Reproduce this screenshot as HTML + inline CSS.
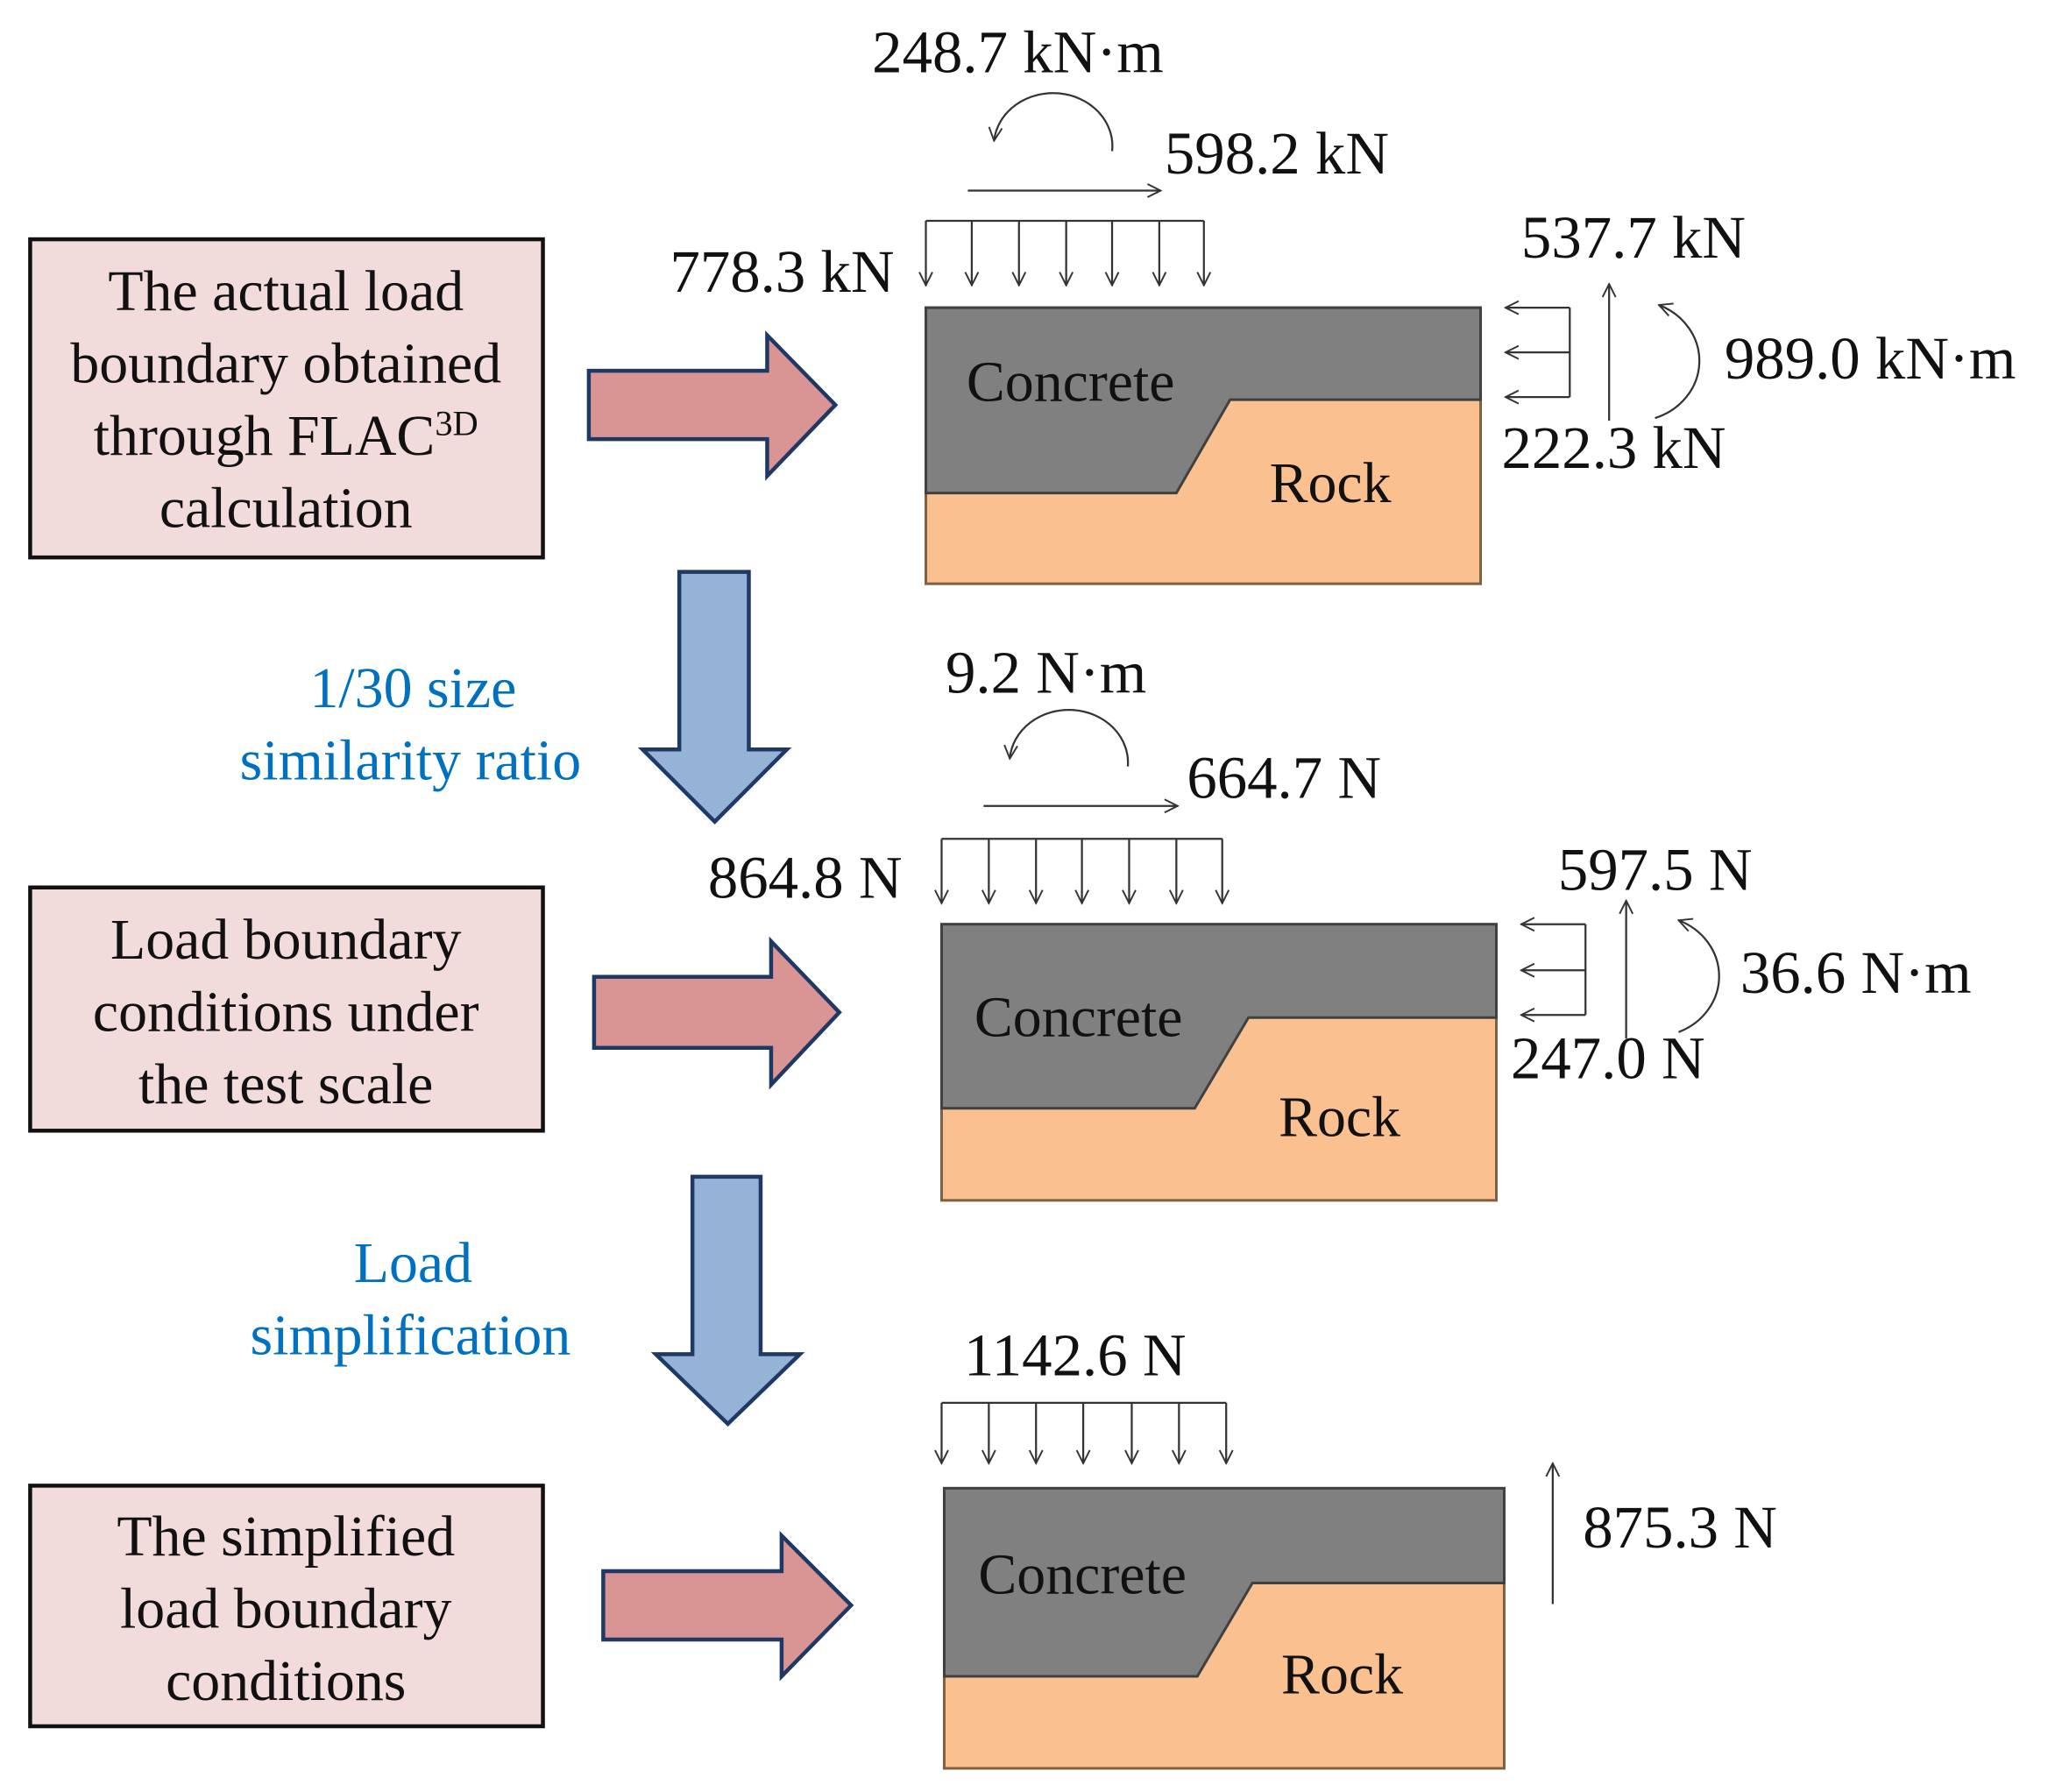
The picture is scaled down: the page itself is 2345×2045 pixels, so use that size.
<!DOCTYPE html>
<html><head><meta charset="utf-8"><style>
html,body{margin:0;padding:0;background:#fff;}
svg{display:block;}
text{font-family:"Liberation Serif",serif;fill:#111;}
.b{fill:#0070c0;}
</style></head><body>
<svg width="2345" height="2045" viewBox="0 0 1567 1363" preserveAspectRatio="none" xmlns="http://www.w3.org/2000/svg">
<defs>
<marker id="ah" viewBox="0 0 12 12" refX="11" refY="6" markerWidth="12" markerHeight="12" markerUnits="userSpaceOnUse" orient="auto">
<path d="M1,1 L11,6 L1,11" fill="none" stroke="#333" stroke-width="1.3"/>
</marker>
</defs>
<rect width="1567" height="1363" fill="#fff"/>

<g stroke="#111" stroke-width="3" fill="#f2dcdb">
<rect x="23" y="182" width="391" height="242"/>
<rect x="23" y="675" width="391" height="185"/>
<rect x="23" y="1130" width="391" height="183"/>
</g>
<g font-size="44" text-anchor="middle">
<text x="218" y="236">The actual load</text>
<text x="218" y="291">boundary obtained</text>
<text x="218" y="346">through FLAC<tspan font-size="27" dy="-15">3D</tspan></text>
<text x="218" y="401">calculation</text>
<text x="218" y="729">Load boundary</text>
<text x="218" y="784">conditions under</text>
<text x="218" y="839">the test scale</text>
<text x="218" y="1183">The simplified</text>
<text x="218" y="1238">load boundary</text>
<text x="218" y="1293">conditions</text>
</g>

<g fill="#d99594" stroke="#1f3864" stroke-width="3" stroke-linejoin="miter">
<path d="M449,282 L585,282 L585,255 L637,308 L585,362 L585,334 L449,334 Z"/>
<path d="M453,743 L588,743 L588,716 L640,770 L588,825 L588,797 L453,797 Z"/>
<path d="M460,1195 L596,1195 L596,1168 L649,1221 L596,1275 L596,1247 L460,1247 Z"/>
</g>
<g fill="#95b3d7" stroke="#1f3864" stroke-width="3">
<path d="M518,435 L571,435 L571,570 L600,570 L545,625 L490,570 L518,570 Z"/>
<path d="M528,895 L580,895 L580,1030 L610,1030 L555,1083 L500,1030 L528,1030 Z"/>
</g>
<g font-size="44" text-anchor="middle">
<text x="315" y="538" class="b">1/30 size</text>
<text x="313" y="593" class="b">similarity ratio</text>
<text x="315" y="975" class="b">Load</text>
<text x="313" y="1030" class="b">simplification</text>
</g>

<rect x="706" y="234" width="423" height="210" fill="#fac090" stroke="#7f6040" stroke-width="2"/>
<path d="M706,234 L1129,234 L1129,304 L938,304 L897,375 L706,375 Z" fill="#808080" stroke="#404040" stroke-width="2"/>
<text x="737" y="305" font-size="44">Concrete</text>
<text x="968" y="382" font-size="44">Rock</text>
<g stroke="#333" stroke-width="1.5" fill="none">
<line x1="706" y1="168" x2="918" y2="168"/>
<g marker-end="url(#ah)">
<line x1="706" y1="168" x2="706" y2="217"/><line x1="741" y1="168" x2="741" y2="217"/><line x1="777" y1="168" x2="777" y2="217"/><line x1="813" y1="168" x2="813" y2="217"/><line x1="848" y1="168" x2="848" y2="217"/><line x1="884" y1="168" x2="884" y2="217"/><line x1="918" y1="168" x2="918" y2="217"/>
<line x1="738" y1="145" x2="885" y2="145"/>
<path d="M848,115 A45,40 0 0 0 758,107"/>
<line x1="1197" y1="234" x2="1148" y2="234"/><line x1="1197" y1="268" x2="1148" y2="268"/><line x1="1197" y1="302" x2="1148" y2="302"/>
<line x1="1227" y1="320" x2="1227" y2="216"/>
<path d="M1262,318 A50,46 0 0 0 1265,232"/>
</g>
<line x1="1197" y1="234" x2="1197" y2="302"/>
</g>
<g font-size="46">
<text x="682" y="222" text-anchor="end">778.3 kN</text>
<text x="888" y="132">598.2 kN</text>
<text x="665" y="55">248.7 kN·m</text>
<text x="1160" y="196">537.7 kN</text>
<text x="1315" y="288">989.0 kN·m</text>
<text x="1145" y="356">222.3 kN</text>
</g>

<rect x="718" y="703" width="423" height="210" fill="#fac090" stroke="#7f6040" stroke-width="2"/>
<path d="M718,703 L1141,703 L1141,774 L952,774 L911,843 L718,843 Z" fill="#808080" stroke="#404040" stroke-width="2"/>
<text x="743" y="788" font-size="44">Concrete</text>
<text x="975" y="864" font-size="44">Rock</text>
<g stroke="#333" stroke-width="1.5" fill="none">
<line x1="718" y1="638" x2="932" y2="638"/>
<g marker-end="url(#ah)">
<line x1="718" y1="638" x2="718" y2="687"/><line x1="754" y1="638" x2="754" y2="687"/><line x1="790" y1="638" x2="790" y2="687"/><line x1="825" y1="638" x2="825" y2="687"/><line x1="861" y1="638" x2="861" y2="687"/><line x1="897" y1="638" x2="897" y2="687"/><line x1="932" y1="638" x2="932" y2="687"/>
<line x1="750" y1="613" x2="898" y2="613"/>
<path d="M860,583 A45,40 0 0 0 770,577"/>
<line x1="1209" y1="703" x2="1160" y2="703"/><line x1="1209" y1="738" x2="1160" y2="738"/><line x1="1209" y1="772" x2="1160" y2="772"/>
<line x1="1240" y1="790" x2="1240" y2="685"/>
<path d="M1280,785 A50,46 0 0 0 1280,700"/>
</g>
<line x1="1209" y1="703" x2="1209" y2="772"/>
</g>
<g font-size="46">
<text x="688" y="683" text-anchor="end">864.8 N</text>
<text x="905" y="607">664.7 N</text>
<text x="721" y="527">9.2 N·m</text>
<text x="1188" y="677">597.5 N</text>
<text x="1327" y="755">36.6 N·m</text>
<text x="1152" y="820">247.0 N</text>
</g>

<rect x="720" y="1132" width="427" height="213" fill="#fac090" stroke="#7f6040" stroke-width="2"/>
<path d="M720,1132 L1147,1132 L1147,1204 L955,1204 L913,1275 L720,1275 Z" fill="#808080" stroke="#404040" stroke-width="2"/>
<text x="746" y="1212" font-size="44">Concrete</text>
<text x="977" y="1288" font-size="44">Rock</text>
<g stroke="#333" stroke-width="1.5" fill="none">
<line x1="718" y1="1067" x2="935" y2="1067"/>
<g marker-end="url(#ah)">
<line x1="718" y1="1067" x2="718" y2="1113"/><line x1="754" y1="1067" x2="754" y2="1113"/><line x1="790" y1="1067" x2="790" y2="1113"/><line x1="826" y1="1067" x2="826" y2="1113"/><line x1="863" y1="1067" x2="863" y2="1113"/><line x1="899" y1="1067" x2="899" y2="1113"/><line x1="935" y1="1067" x2="935" y2="1113"/>
<line x1="1184" y1="1220" x2="1184" y2="1113"/>
</g>
</g>
<g font-size="46">
<text x="735" y="1046">1142.6 N</text>
<text x="1207" y="1177">875.3 N</text>
</g>
</svg>
</body></html>
